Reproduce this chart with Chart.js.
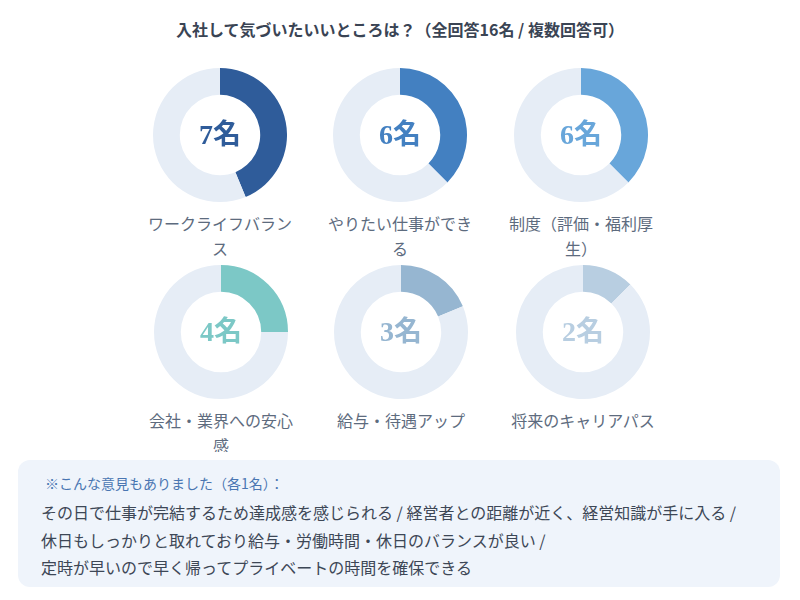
<!DOCTYPE html>
<html lang="ja">
<head>
<meta charset="utf-8">
<script src="https://cdn.jsdelivr.net/npm/chart.js@4.4.1/dist/chart.umd.min.js"></script>
<style>
  html, body { margin: 0; padding: 0; background: #fff; }
  body { width: 800px; height: 600px; position: relative; overflow: hidden;
         font-family: "Noto Sans CJK JP", "Noto Sans", sans-serif; }
  #title { position: absolute; left: 0; width: 800px; top: 17px; text-align: center;
           font-size: 16px; font-weight: bold; color: #3a4454; }
  .cell { position: absolute; width: 160px; }
  .cell canvas { display: block; margin: 0 auto; }
  .label { width: 150px; margin: 9px auto 0; text-align: center; font-size: 16px;
           line-height: 25px; color: #5d6b7e; overflow: hidden; }
  #note { position: absolute; left: 18px; top: 460px; width: 762px; height: 127px;
          background: #eff4fb; border-radius: 12px; }
  #note .head { position: absolute; left: 27px; top: 13px; font-size: 14px; color: #4a76b2; }
  #note .body { position: absolute; left: 23px; top: 39px; font-size: 16px; line-height: 27.5px;
                color: #3d4756; white-space: nowrap; }
</style>
</head>
<body>
<div id="title">入社して気づいたいいところは？（全回答16名 / 複数回答可）</div>
<div id="grid"></div>
<div id="note">
  <div class="head">※こんな意見もありました（各1名）：</div>
  <div class="body" id="noteBody"></div>
</div>
<script>
// data
const totalRespondents = 16;
const categories = ['ワークライフバランス', 'やりたい仕事ができる', '制度（評価・福利厚生）',
                    '会社・業界への安心感', '給与・待遇アップ', '将来のキャリアパス'];
const counts = [7, 6, 6, 4, 3, 2];
const otherOpinions = [
    'その日で仕事が完結するため達成感を感じられる / 経営者との距離が近く、経営知識が手に入る /',
    '休日もしっかりと取れており給与・労働時間・休日のバランスが良い /',
    '定時が早いので早く帰ってプライベートの時間を確保できる'
];

// styles
const palette = ['#2f5c9a', '#4380c1', '#68a6da', '#7cc8c6', '#96b6d1', '#b8cee1'];
const trackColor = '#e6edf6';
const centers = [[220, 135], [400, 135], [581, 135], [221, 332], [401, 332], [583, 332]];

document.getElementById('noteBody').innerHTML = otherOpinions.join('<br>');

const centerText = {
    id: 'centerText',
    afterDraw(chart, args, opts) {
        const ctx = chart.ctx;
        const area = chart.chartArea;
        ctx.save();
        ctx.font = 'bold 28px "Liberation Serif", "Noto Sans CJK JP", serif';
        ctx.fillStyle = opts.color;
        ctx.textAlign = 'center';
        ctx.textBaseline = 'middle';
        ctx.fillText(opts.text, (area.left + area.right) / 2, (area.top + area.bottom) / 2 + 2);
        ctx.restore();
    }
};

const grid = document.getElementById('grid');
for (let i = 0; i < categories.length; i++) {
    const cell = document.createElement('div');
    cell.className = 'cell';
    cell.style.left = (centers[i][0] - 80) + 'px';
    cell.style.top = (centers[i][1] - 67) + 'px';
    cell.innerHTML = '<canvas width="134" height="134"></canvas><div class="label"></div>';
    const label = cell.querySelector('.label');
    label.textContent = categories[i];
    if (i >= 3) label.style.height = '44px';
    grid.appendChild(cell);

    new Chart(cell.querySelector('canvas').getContext('2d'), {
        type: 'doughnut',
        data: {
            labels: [categories[i], 'その他'],
            datasets: [{
                data: [counts[i], totalRespondents - counts[i]],
                backgroundColor: [palette[i], trackColor],
                borderWidth: 0,
                hoverOffset: 0
            }]
        },
        options: {
            responsive: false,
            animation: false,
            cutout: '60%',
            events: [],
            plugins: {
                legend: { display: false },
                tooltip: { enabled: false },
                centerText: { text: counts[i] + '名', color: palette[i] }
            }
        },
        plugins: [centerText]
    });
}
</script>
</body>
</html>
